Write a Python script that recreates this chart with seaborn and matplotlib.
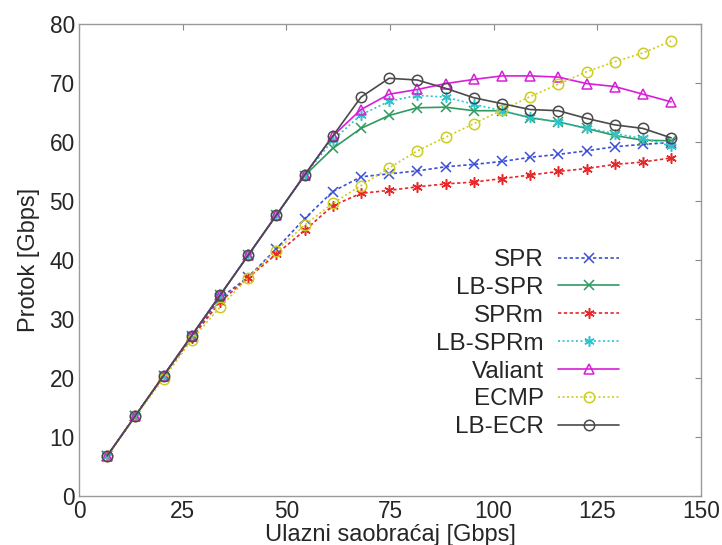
import numpy as np
import pandas as pd
import matplotlib
matplotlib.use('Agg')
import matplotlib.pyplot as plt
import seaborn as sns

# offered load (x) and throughput per routing scheme (y)
load = [6.8, 13.6, 20.4, 27.2, 34.0, 40.8, 47.6, 54.4, 61.2, 68.0, 74.8,
        81.6, 88.4, 95.2, 102.0, 108.8, 115.6, 122.4, 129.2, 136.0, 142.8]

spr = [6.8, 13.6, 20.4, 27.0, 33.5, 37.1, 41.9, 47.0, 51.6, 54.1, 54.6,
       55.1, 55.8, 56.2, 56.7, 57.4, 57.9, 58.5, 59.2, 59.6, 59.9]
lb_spr = [6.8, 13.6, 20.4, 27.2, 34.0, 40.8, 47.6, 54.3, 58.9, 62.3, 64.5,
          65.8, 65.9, 65.3, 65.3, 64.1, 63.4, 62.3, 61.1, 60.3, 60.2]
sprm = [6.8, 13.6, 20.4, 26.8, 32.9, 37.0, 41.0, 45.0, 49.2, 51.3, 51.8,
        52.4, 52.9, 53.2, 53.8, 54.4, 55.0, 55.5, 56.2, 56.6, 57.3]
lb_sprm = [6.8, 13.6, 20.4, 27.2, 34.0, 40.8, 47.6, 54.4, 60.3, 64.6, 66.9,
           67.9, 67.6, 66.4, 65.3, 64.2, 63.4, 62.4, 61.4, 60.6, 59.3]
valiant = [6.8, 13.6, 20.4, 27.2, 34.0, 40.8, 47.6, 54.4, 61.0, 65.5, 68.1,
           68.9, 69.9, 70.6, 71.2, 71.2, 71.0, 69.9, 69.4, 68.1, 66.8]
ecmp = [6.7, 13.5, 19.9, 26.5, 32.0, 37.0, 41.6, 45.9, 49.6, 52.6, 55.6,
        58.5, 60.8, 63.1, 65.4, 67.7, 69.8, 71.9, 73.6, 75.1, 77.1]
lb_ecr = [6.8, 13.6, 20.4, 27.2, 34.0, 40.8, 47.6, 54.4, 61.0, 67.6, 70.8,
          70.5, 69.1, 67.5, 66.5, 65.5, 65.3, 64.0, 62.9, 62.3, 60.7]

names = ['SPR', 'LB-SPR', 'SPRm', 'LB-SPRm', 'Valiant', 'ECMP', 'LB-ECR']
series = [spr, lb_spr, sprm, lb_sprm, valiant, ecmp, lb_ecr]

styles = {
    'SPR':     dict(color='#3b50d6', marker='x', ls=(0, (2, 1.5))),
    'LB-SPR':  dict(color='#2f9a5f', marker='x', ls='-'),
    'SPRm':    dict(color='#e82828', marker=(6, 2, 0), ls=(0, (2, 1.5))),
    'LB-SPRm': dict(color='#2ec4cc', marker=(6, 2, 0), ls=(0, (1.2, 1.5))),
    'Valiant': dict(color='#d81ed8', marker='^', ls='-'),
    'ECMP':    dict(color='#cccc22', marker='o', ls=(0, (1.2, 1.5))),
    'LB-ECR':  dict(color='#4a4a4a', marker='o', ls='-'),
}

df = pd.DataFrame({'load': load * len(names),
                   'throughput': sum(series, []),
                   'scheme': np.repeat(names, len(load))})

sns.set_style('white')
plt.rcParams['font.family'] = ['Liberation Sans', 'DejaVu Sans']

fig = plt.figure(figsize=(7.22, 5.45), dpi=100)
ax = fig.add_axes([0.1094, 0.0899, 0.8615, 0.8661])

for name in names:
    st = styles[name]
    sub = df[df['scheme'] == name]
    sns.lineplot(data=sub, x='load', y='throughput', ax=ax, label=name,
                 color=st['color'], marker=st['marker'], linestyle=st['ls'],
                 markerfacecolor='none', markeredgecolor=st['color'],
                 markersize=7.5, markeredgewidth=1.1, linewidth=1.2)

ax.set_xlim(0, 150)
ax.set_ylim(0, 80)
ax.set_xticks([0, 25, 50, 75, 100, 125, 150])
ax.set_yticks([0, 10, 20, 30, 40, 50, 60, 70, 80])
ax.tick_params(direction='in', top=True, right=True, length=4, width=0.8,
               color='#888888', labelsize=16.3, pad=3)
for s in ax.spines.values():
    s.set_color('#999999')
    s.set_linewidth(1.0)

ax.set_xlabel('Ulazni saobraćaj [Gbps]', fontsize=17, labelpad=0.5)
ax.set_ylabel('Protok [Gbps]', fontsize=17, labelpad=7)

leg = ax.legend(loc='upper right', bbox_to_anchor=(0.868, 0.523),
                frameon=False, markerfirst=False, fontsize=17.5,
                handlelength=2.5, handletextpad=0.6, labelspacing=0.24,
                borderpad=0, borderaxespad=0)
for t in leg.get_texts():
    t.set_ha('right')

plt.savefig('out.png', dpi=100)
